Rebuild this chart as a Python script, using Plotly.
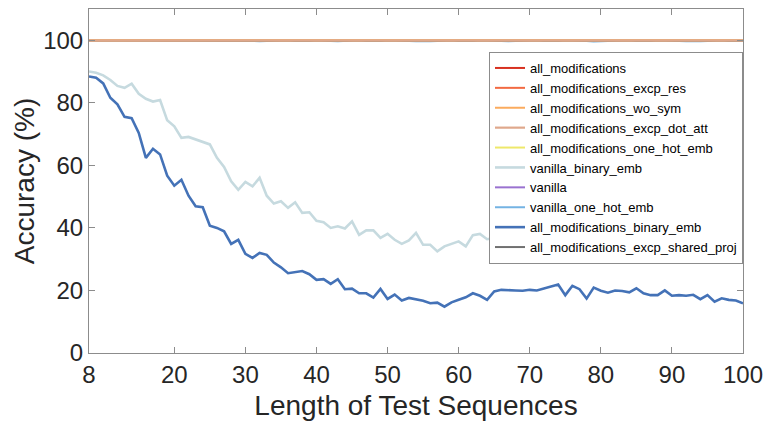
import plotly.graph_objects as go

seq_len = list(range(8, 101))

all_mod_binary_emb = [
    88.4, 88.0, 86.2, 81.6, 79.5, 75.5, 75.1, 70.4, 62.4, 65.3, 63.5, 56.7, 53.5, 55.4, 50.3,
    46.9, 46.6, 40.7, 40.0, 38.9, 34.9, 36.2, 31.7, 30.4, 32.0, 31.4, 28.9, 27.4, 25.5, 25.9,
    26.2, 25.2, 23.4, 23.6, 22.1, 23.6, 20.4, 20.6, 19.1, 19.1, 17.7, 20.5, 17.3, 18.7, 16.8,
    17.6, 17.2, 16.7, 15.9, 16.1, 14.8, 16.2, 17.0, 17.8, 19.1, 18.3, 17.0, 19.7, 20.2, 20.2,
    20.0, 19.9, 20.2, 20.0, 20.6, 21.4, 21.9, 18.5, 21.5, 20.4, 17.4, 20.9, 19.9, 19.3, 20.0,
    19.8, 19.4, 20.7, 19.1, 18.5, 18.5, 20.0, 18.3, 18.5, 18.3, 18.6, 17.2, 18.5, 16.4, 17.5,
    17.0, 16.8, 15.9]

vanilla_binary_emb = [
    90.0, 89.6, 88.8, 87.3, 85.4, 84.8, 86.1, 82.9, 81.3, 80.4, 80.9, 74.4, 72.5, 68.8, 69.1,
    68.3, 67.4, 66.7, 62.4, 59.5, 54.9, 52.2, 54.7, 53.3, 56.0, 50.3, 47.8, 48.5, 46.4, 48.2,
    44.8, 45.0, 42.3, 41.8, 40.0, 40.5, 39.8, 42.1, 37.8, 39.2, 39.2, 36.8, 38.1, 36.2, 34.9,
    36.0, 38.4, 34.6, 34.6, 32.5, 34.1, 34.9, 35.7, 34.1, 37.7, 38.1, 36.4, 36.8, 38.4, 37.8,
    37.3, 37.5, 38.1, 36.8, 36.5, 35.7, 36.4, 34.6, 35.7, 34.3, 36.4, 34.3, 33.9, 35.2, 33.0,
    35.4, 34.3, 33.2, 33.5, 32.5, 31.7, 33.2, 32.2, 32.2, 30.3, 31.4, 31.1, 31.7, 30.0, 28.9,
    30.3, 30.0, 30.2]

all_modifications = [
    100, 100, 100, 100, 100, 100, 100, 100, 100, 100, 100, 100, 100, 100, 100,
    100, 100, 100, 100, 100, 100, 100, 100, 100, 100, 100, 100, 100, 100, 100,
    100, 100, 100, 100, 100, 100, 100, 100, 100, 100, 100, 100, 100, 100, 100,
    100, 100, 100, 100, 100, 100, 100, 100, 100, 100, 100, 100, 100, 100, 100,
    100, 100, 100, 100, 100, 100, 100, 100, 100, 100, 100, 100, 100, 100, 100,
    100, 100, 100, 100, 100, 100, 100, 100, 100, 100, 100, 100, 100, 100, 100,
    100, 100, 100]

all_mod_excp_res = [
    100, 100, 100, 100, 100, 100, 100, 100, 100, 100, 100, 100, 100, 100, 100,
    100, 100, 100, 100, 100, 100, 100, 100, 100, 100, 100, 100, 100, 100, 100,
    100, 100, 100, 100, 100, 100, 100, 100, 100, 100, 100, 100, 100, 100, 100,
    100, 100, 100, 100, 100, 100, 100, 100, 100, 100, 100, 100, 100, 100, 100,
    100, 100, 100, 100, 100, 100, 100, 100, 100, 100, 100, 100, 100, 100, 100,
    100, 100, 100, 100, 100, 100, 100, 100, 100, 100, 100, 100, 100, 100, 100,
    100, 100, 100]

all_mod_wo_sym = [
    100, 100, 100, 100, 100, 100, 100, 100, 100, 100, 100, 100, 100, 100, 100,
    100, 100, 100, 100, 100, 100, 100, 100, 100, 100, 100, 100, 100, 100, 100,
    100, 100, 100, 100, 100, 100, 100, 100, 100, 100, 100, 100, 100, 100, 100,
    100, 100, 100, 100, 100, 100, 100, 100, 100, 100, 100, 100, 100, 100, 100,
    100, 100, 100, 100, 100, 100, 100, 100, 100, 100, 100, 100, 100, 100, 100,
    100, 100, 100, 100, 100, 100, 100, 100, 100, 100, 100, 100, 100, 100, 100,
    100, 100, 100]

all_mod_excp_dot_att = [
    100, 100, 100, 100, 100, 100, 100, 100, 100, 100, 100, 100, 100, 100, 100,
    100, 100, 100, 100, 100, 100, 100, 100, 100, 100, 100, 100, 100, 100, 100,
    100, 100, 100, 100, 100, 100, 100, 100, 100, 100, 100, 100, 100, 100, 100,
    100, 100, 100, 100, 100, 100, 100, 100, 100, 100, 100, 100, 100, 100, 100,
    100, 100, 100, 100, 100, 100, 100, 100, 100, 100, 100, 100, 100, 100, 100,
    100, 100, 100, 100, 100, 100, 100, 100, 100, 100, 100, 100, 100, 100, 100,
    100, 100, 100]

all_mod_one_hot_emb = [
    100, 100, 100, 100, 100, 100, 100, 100, 100, 100, 100, 100, 100, 100, 100,
    100, 100, 100, 100, 100, 100, 100, 100, 100, 100, 100, 100, 100, 100, 100,
    100, 100, 100, 100, 100, 100, 100, 100, 100, 100, 100, 100, 100, 100, 100,
    100, 100, 100, 100, 100, 100, 100, 100, 100, 100, 100, 100, 100, 100, 100,
    100, 100, 100, 100, 100, 100, 100, 100, 100, 100, 100, 100, 100, 100, 100,
    100, 100, 100, 100, 100, 100, 100, 100, 100, 100, 100, 100, 100, 100, 100,
    100, 100, 100]

vanilla = [
    100, 100, 100, 100, 100, 100, 100, 100, 100, 100, 100, 100, 100, 100, 100,
    100, 100, 100, 100, 100, 100, 100, 100, 100, 100, 100, 100, 100, 100, 100,
    100, 100, 100, 100, 100, 100, 100, 100, 100, 100, 100, 100, 100, 100, 100,
    100, 100, 100, 100, 100, 100, 100, 100, 100, 100, 100, 100, 100, 100, 100,
    100, 100, 100, 100, 100, 100, 100, 100, 100, 100, 100, 100, 100, 100, 100,
    100, 100, 100, 100, 100, 100, 100, 100, 100, 100, 100, 100, 100, 100, 100,
    100, 100, 100]

vanilla_one_hot_emb = [
    100, 100, 100, 100, 100, 100, 100, 100, 100, 100, 100, 100, 100, 100, 100,
    100, 100, 100, 100, 100, 100, 100, 100, 99.8, 99.7, 99.8, 100, 100, 100, 99.8,
    99.7, 99.8, 100, 100, 99.8, 99.7, 99.8, 100, 100, 99.8, 99.7, 99.8, 100, 100, 100,
    99.8, 99.7, 99.6, 99.7, 99.8, 100, 100, 99.8, 99.7, 99.8, 100, 100, 100, 99.8, 99.7,
    99.8, 100, 100, 100, 99.8, 99.7, 99.8, 100, 100, 100, 99.8, 99.6, 99.7, 99.8, 100,
    100, 100, 99.8, 99.7, 99.8, 100, 100, 100, 99.8, 99.7, 99.6, 99.7, 99.8, 100, 100,
    99.8, 99.7, 99.8]

all_mod_excp_shared_proj = [
    100, 100, 100, 100, 100, 100, 100, 100, 100, 100, 100, 100, 100, 100, 100,
    100, 100, 100, 100, 100, 100, 100, 100, 100, 100, 100, 100, 100, 100, 100,
    100, 100, 100, 100, 100, 100, 100, 100, 100, 100, 100, 100, 100, 100, 100,
    100, 100, 100, 100, 100, 100, 100, 100, 100, 100, 100, 100, 100, 100, 100,
    100, 100, 100, 100, 100, 100, 100, 100, 100, 100, 100, 100, 100, 100, 100,
    100, 100, 100, 100, 100, 100, 100, 100, 100, 100, 100, 100, 100, 100, 100,
    100, 100, 100]

x_tick_vals = [8, 20, 30, 40, 50, 60, 70, 80, 90, 100]
y_tick_vals = [0, 20, 40, 60, 80, 100]

# (name, values, color, width, legend rank); drawn in this order
series = [
    ("vanilla_one_hot_emb", vanilla_one_hot_emb, "#74b3e3", 2, 8),
    ("all_modifications", all_modifications, "#d7301f", 2, 1),
    ("all_modifications_excp_res", all_mod_excp_res, "#f26a42", 2, 2),
    ("all_modifications_excp_shared_proj", all_mod_excp_shared_proj, "#707070", 2, 10),
    ("vanilla", vanilla, "#9a72d0", 2, 7),
    ("all_modifications_one_hot_emb", all_mod_one_hot_emb, "#eee86a", 2, 5),
    ("all_modifications_wo_sym", all_mod_wo_sym, "#fbab5e", 2, 3),
    ("all_modifications_excp_dot_att", all_mod_excp_dot_att, "#dfa88c", 2.2, 4),
    ("vanilla_binary_emb", vanilla_binary_emb, "#c6dadf", 2.6, 6),
    ("all_modifications_binary_emb", all_mod_binary_emb, "#4472b7", 2.6, 9),
]

fig = go.Figure()
for name, vals, color, width, rank in series:
    fig.add_trace(go.Scatter(
        x=seq_len, y=vals, mode="lines", name=name,
        line=dict(color=color, width=width),
        legendrank=rank,
    ))

FONT = "Liberation Sans, Arial, Helvetica, sans-serif"

axis_common = dict(
    showgrid=False, zeroline=False, showline=True, linecolor="#8c8c8c", linewidth=1,
    mirror="ticks", ticks="inside", ticklen=6, tickcolor="#8c8c8c",
    tickfont=dict(family=FONT, size=24, color="#262626"),
    automargin=False,
)

fig.update_layout(
    width=767, height=421,
    margin=dict(l=89, r=24, t=9, b=68),
    paper_bgcolor="white", plot_bgcolor="white",
    font=dict(family=FONT, color="#262626"),
    xaxis=dict(range=[8, 100], tickvals=x_tick_vals, ticktext=[str(v) for v in x_tick_vals],
               title=dict(text="Length of Test Sequences", font=dict(size=28, color="#262626"), standoff=9),
               **axis_common),
    yaxis=dict(range=[0, 110], tickvals=y_tick_vals, ticktext=[str(v) for v in y_tick_vals],
               title=dict(text="Accuracy (%)", font=dict(size=28, color="#262626"), standoff=0),
               **axis_common),
    legend=dict(
        x=1, xanchor="right", y=0.875, yanchor="top",
        bgcolor="white", bordercolor="#8c8c8c", borderwidth=1,
        font=dict(family=FONT, size=13, color="#000000"),
        tracegroupgap=0, itemwidth=30,
    ),
    showlegend=True,
)

fig.write_html("out.html")
